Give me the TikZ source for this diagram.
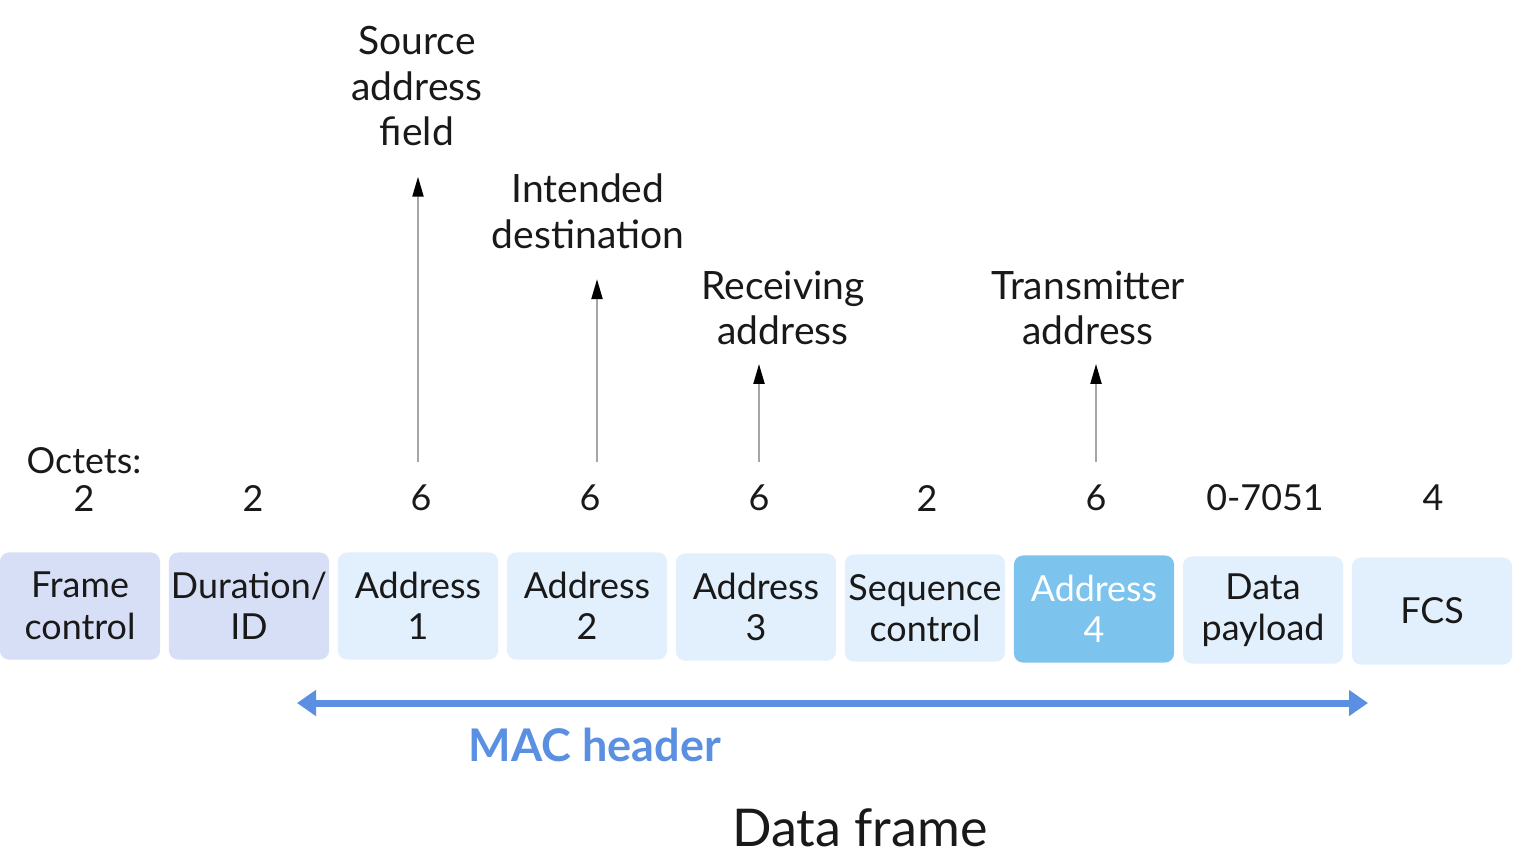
\documentclass[tikz,border=0pt]{standalone}
\usepackage{fontspec}
\setmainfont{Lato}
\usetikzlibrary{positioning, arrows.meta}
\definecolor{lav}{HTML}{D6DFF5}
\definecolor{pale}{HTML}{E2EFFC}
\definecolor{hili}{HTML}{7CC3EE}
\definecolor{macblue}{HTML}{5B8FE2}

\begin{document}
\begin{tikzpicture}[x=0.01cm, y=-0.01cm, text=black!90,
    field/.style={rounded corners=0.09cm, fill=pale, minimum width=1.6cm, minimum height=1.07cm, inner sep=0pt, align=center, font=\fontsize{10.2}{11.8}\selectfont},
    octet/.style={font=\fontsize{10.2}{11.8}\selectfont, inner sep=1pt},
    callout/.style={align=center, inner sep=0pt, font=\fontsize{11.1}{13}\selectfont},
    up/.style={draw=black!35, line width=0.6pt, -{Triangle[length=0.2cm, width=0.11cm, black]}},
    macarrow/.style={draw=macblue, line width=0.07cm, {Triangle[length=0.19cm, width=0.25cm]}-{Triangle[length=0.19cm, width=0.25cm]}}]
    \useasboundingbox (0,0) rectangle (1531,860);

    % fields of the frame
    \node[field, fill=lav] (fc) at (80,606) {Frame\\control};
    \node[field, fill=lav] (dur) at (249,606) {Duration/\\ID};
    \node[field] (ad1) at (418,606) {Address\\1};
    \node[field] (ad2) at (587,606) {Address\\2};
    \node[field] (ad3) at (756,607) {Address\\3};
    \node[field] (seq) at (925,608) {Sequence\\control};
    \node[field, fill=hili, text=white] (ad4) at (1094,609) {Address\\4};
    \node[field] (pay) at (1263,610) {Data\\payload};
    \node[field] (fcs) at (1432,611) {FCS};

    % octet counts
    \node[octet] (oct) at (84,461) {Octets:};
    \node[octet] (o1) at (84,498) {2};
    \node[octet] (o2) at (253,498) {2};
    \node[octet] (o3) at (421,498) {6};
    \node[octet] (o4) at (590,498) {6};
    \node[octet] (o5) at (759,498) {6};
    \node[octet] (o6) at (927,498) {2};
    \node[octet] (o7) at (1096,498) {6};
    \node[octet] (o8) at (1265,498) {0-7051};
    \node[octet] (o9) at (1433,498) {4};

    % what the addresses hold
    \node[callout] (src) at (417,86) {Source\\address\\field};
    \node[callout] (dst) at (588,211) {Intended\\destination};
    \node[callout] (rcv) at (783,308) {Receiving\\address};
    \node[callout] (tx) at (1088,308) {Transmitter\\address};

    \coordinate (b1) at (418,462);
    \coordinate (b2) at (597,462);
    \coordinate (b3) at (759,462);
    \coordinate (b4) at (1096,462);
    \draw[up, shorten >=0.3cm] (b1) -- (b1 |- src.south);
    \draw[up, shorten >=0.3cm] (b2) -- (b2 |- dst.south);
    \draw[up, shorten >=0.18cm] (b3) -- (b3 |- rcv.south);
    \draw[up, shorten >=0.18cm] (b4) -- (b4 |- tx.south);

    % header span
    \coordinate (mL) at (297,703);
    \coordinate (mR) at (1368,703);
    \draw[macarrow] (mL) -- (mR);
    \node[text=macblue, font=\bfseries\fontsize{12.8}{15}\selectfont] (mac) at (595,745) {MAC header};
    \node[font=\fontsize{14.8}{17}\selectfont] (title) at (860,828) {Data frame};
\end{tikzpicture}
\end{document}
